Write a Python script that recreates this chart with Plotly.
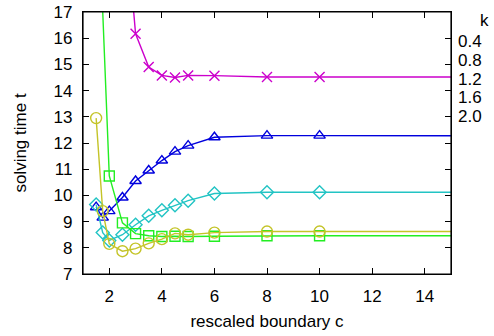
import plotly.graph_objects as go

c_values = [1.5, 1.75, 2, 2.5, 3, 3.5, 4, 4.5, 5, 6, 8, 10, 20]
k_labels = ["0.4", "0.8", "1.2", "1.6", "2.0"]
t_k04 = [None, None, None, 22.0, 16.17, 14.9, 14.58, 14.5, 14.58, 14.57, 14.52, 14.52, 14.52]
t_k08 = [9.55, 9.15, 9.4, 9.92, 10.55, 10.95, 11.33, 11.67, 11.9, 12.22, 12.28, 12.28, 12.27]
t_k12 = [9.65, 8.58, 8.28, 8.5, 8.88, 9.22, 9.43, 9.62, 9.8, 10.07, 10.12, 10.12, 10.12]
t_k16 = [23.3, None, 10.74, 8.95, 8.54, 8.46, 8.43, 8.44, 8.43, 8.44, 8.46, 8.46, 8.46]
t_k20 = [12.95, 9.4, 8.15, 7.87, 7.97, 8.17, 8.33, 8.55, 8.5, 8.58, 8.62, 8.62, 8.62]
x_ticks = [2, 4, 6, 8, 10, 12, 14]
y_ticks = list(range(7, 18))

series = [
    (t_k04, "#cc00cc", "x-thin-open", 10),
    (t_k08, "#0000dd", "triangle-up-open", 10),
    (t_k12, "#22c4c4", "diamond-open", 10),
    (t_k16, "#22ee22", "square-open", 10),
    (t_k20, "#c4c428", "circle-open", 11),
]

fig = go.Figure()
for (ys, col, sym, sz), lab in zip(series, k_labels):
    fig.add_trace(go.Scatter(
        x=c_values, y=ys, mode="lines+markers", name=lab, connectgaps=True,
        line=dict(color=col, width=1.4),
        marker=dict(symbol=sym, size=sz, color=col, line=dict(color=col, width=1.4)),
        showlegend=False,
    ))

font = dict(family="Liberation Sans, Arial, sans-serif", size=17, color="black")
axis_common = dict(
    showgrid=False, zeroline=False, showline=True, linecolor="black", linewidth=1.2,
    mirror="ticks", ticks="inside", ticklen=6, tickcolor="black", tickwidth=1,
    tickfont=font, automargin=False,
)
fig.update_xaxes(range=[1, 15], tickvals=x_ticks, ticklabelstandoff=6,
                 title=dict(text="rescaled boundary c", font=font, standoff=10), **axis_common)
fig.update_yaxes(range=[7, 17], tickvals=y_ticks, ticklabelstandoff=6,
                 title=dict(text="solving time t", font=font, standoff=22), **axis_common)

fig.update_layout(
    width=494, height=336,
    margin=dict(l=83, r=43, t=12, b=62),
    paper_bgcolor="white", plot_bgcolor="white",
    font=font,
)
# frame around the plotting area
fig.add_shape(type="rect", xref="paper", yref="paper", x0=0, y0=0, x1=1, y1=1,
              line=dict(color="black", width=1.2), layer="above")
# plot area spans x 83..451, y 12..274 (pixels)
def px_to_paper(px, py):
    return (px - 83) / 368, (274 - py) / 262
anns = []
kx, ky = px_to_paper(484, 20)
anns.append(dict(text="k", x=kx, y=ky, xref="paper", yref="paper", showarrow=False,
                 font=font, xanchor="center", yanchor="middle"))
for i, lab in enumerate(k_labels):
    ax_, ay_ = px_to_paper(456, 42 + i * 18.5)
    anns.append(dict(text=lab, x=ax_, y=ay_, xref="paper", yref="paper", showarrow=False,
                     font=font, xanchor="left", yanchor="middle"))
fig.update_layout(annotations=anns)
fig.write_html("out.html", post_script="document.body.style.margin='0';",
               config={"displayModeBar": False})
